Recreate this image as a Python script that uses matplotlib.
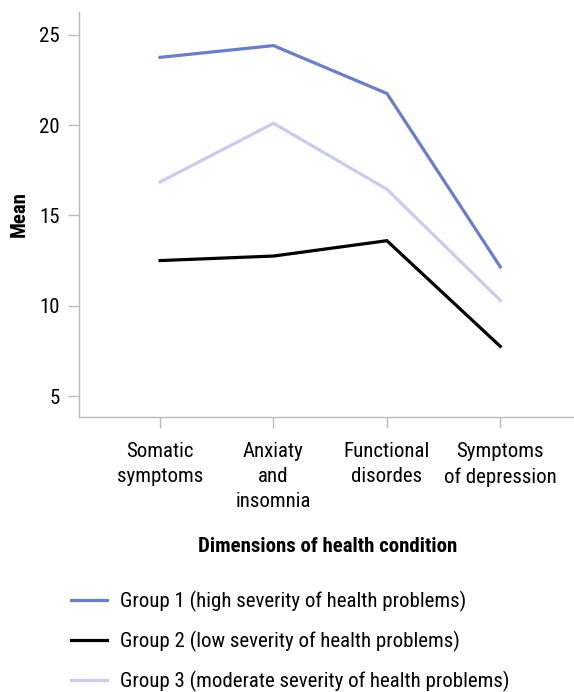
import matplotlib
matplotlib.use("Agg")
import matplotlib.pyplot as plt

plt.rcParams['font.family'] = ['Roboto Condensed', 'DejaVu Sans']

categories = ["Somatic\nsymptoms", "Anxiaty\nand\ninsomnia", "Functional\ndisordes", "Symptoms\nof depression"]
group1 = [23.75, 24.4, 21.75, 12.15]
group2 = [12.5, 12.75, 13.6, 7.75]
group3 = [16.85, 20.1, 16.45, 10.3]
labels = ["Group 1 (high severity of health problems)",
          "Group 2 (low severity of health problems)",
          "Group 3 (moderate severity of health problems)"]
colors = ["#6b7fc4", "#000000", "#c9cdea"]
yticks = [5, 10, 15, 20, 25]

FS = 15

fig = plt.figure(figsize=(5.74, 6.92), dpi=100)
ax = fig.add_axes([79/574, 1-417/692, 1-79/574, (417-12)/692])
x = list(range(len(categories)))
for vals, lab, c in zip([group1, group2, group3], labels, colors):
    ax.plot(x, vals, color=c, lw=2.3, label=lab, solid_joinstyle='miter')

ax.set_xlim(-0.715, 3.65)
ax.set_ylim(3.84, 26.26)
ax.set_yticks(yticks)
ax.set_xticks(x)
ax.set_xticklabels(categories, fontsize=FS, linespacing=1.4)
ax.tick_params(axis='y', labelsize=FS, length=8, color='#bbbbbb', width=1, pad=6)
ax.tick_params(axis='x', length=8, color='#bbbbbb', width=1, pad=10)
for s in ['top', 'right']:
    ax.spines[s].set_visible(False)
for s in ['left', 'bottom']:
    ax.spines[s].set_color('#bbbbbb')
    ax.spines[s].set_linewidth(1)

fig.text(19/574, 1-214/692, "Mean", fontsize=FS, fontweight='bold', rotation=90,
         ha='center', va='center')
fig.text(328/574, 1-547/692, "Dimensions of health condition", fontsize=FS, fontweight='bold',
         ha='center', va='center')

h, l = ax.get_legend_handles_labels()
fig.legend(h, l, loc='upper left', bbox_to_anchor=(71/574, 1-591/692), frameon=False,
           fontsize=FS, handlelength=1.75, handletextpad=0.62, labelspacing=0.9,
           borderaxespad=0, borderpad=0)

fig.savefig("out.png", dpi=100)
